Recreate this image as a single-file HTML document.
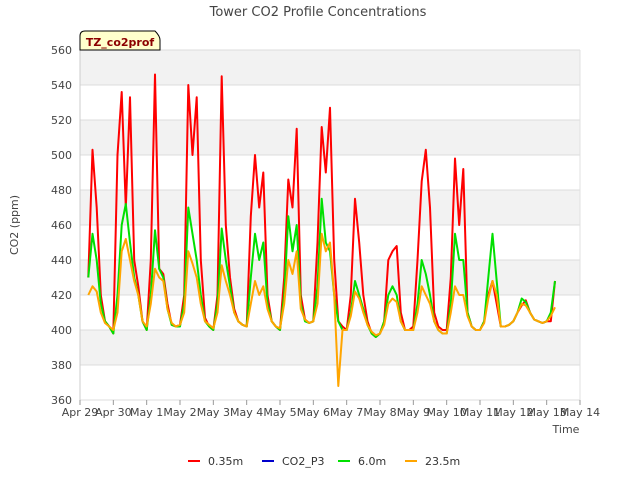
<!DOCTYPE html>
<html><head><meta charset="utf-8"><style>
body{margin:0;background:#fff;font-family:"Liberation Sans","DejaVu Sans",sans-serif}
svg text{font-family:"DejaVu Sans","Liberation Sans",sans-serif}
</style></head><body>
<svg id="chart" width="640" height="480" viewBox="0 0 640 480" xmlns="http://www.w3.org/2000/svg">
<text x="318" y="16" text-anchor="middle" font-size="13" fill="#444">Tower CO2 Profile Concentrations</text>
<g id="plot"></g>
<g>
<path d="M80,50 L80,36 Q80,31 85,31 L155,31 Q160,36 160,40 L160,50 Z" fill="#ffffcc" stroke="#000" stroke-width="1"/>
<text x="120" y="46" text-anchor="middle" font-size="11" font-weight="bold" fill="#8b0000">TZ_co2prof</text>
</g>
<text transform="translate(18,225) rotate(-90)" text-anchor="middle" font-size="11" fill="#444">CO2 (ppm)</text>
<text x="566" y="433" text-anchor="middle" font-size="11" fill="#444">Time</text>
<g id="legend"></g>
</svg>
<script>
const yTicks=[360,380,400,420,440,460,480,500,520,540,560];
const xTickLabels=["Apr 29","Apr 30","May 1","May 2","May 3","May 4","May 5","May 6","May 7","May 8","May 9","May 10","May 11","May 12","May 13","May 14"];
const startDay=0.25, stepDay=0.125;
const red=[430,503,470,420,405,402,
398,500,536,470,533,440,425,405,
400,440,546,435,432,415,403,402,
403,420,540,500,533,440,407,402,
400,420,545,460,430,412,405,403,
402,465,500,470,490,420,405,402,
400,430,486,470,515,420,406,404,
405,450,516,490,527,440,405,402,
400,420,475,450,420,405,398,396,
398,405,440,445,448,410,400,400,
402,440,485,503,470,410,402,400,
400,430,498,460,492,410,402,400,
400,405,420,428,415,402,402,403,
405,410,414,417,410,406,405,404,
405,405,428];
const green=[430,455,440,415,405,402,
398,420,460,472,450,430,420,405,
400,420,457,435,430,412,403,402,
402,415,470,455,440,420,405,402,
400,415,458,440,425,410,405,403,
402,430,455,440,450,415,405,402,
400,420,465,445,460,415,405,404,
405,425,475,450,445,420,405,400,
400,410,428,420,412,403,398,396,
398,405,420,425,420,405,400,400,
400,415,440,432,420,405,400,398,
398,415,455,440,440,410,402,400,
400,405,430,455,428,402,402,403,
405,410,418,416,410,406,405,404,
405,410,428];
const orange=[420,425,422,410,404,402,
400,410,445,452,440,428,420,405,
402,415,435,430,428,412,404,402,
403,410,445,438,430,415,405,403,
401,410,437,428,420,410,405,403,
402,415,428,420,425,412,405,402,
401,415,440,432,445,412,406,404,
405,415,455,445,450,420,368,400,
400,408,422,418,410,403,399,397,
398,403,415,418,416,405,400,400,
400,410,425,420,415,405,400,398,
398,410,425,420,420,408,402,400,
400,404,418,428,420,402,402,403,
405,410,415,414,410,406,405,404,
405,408,413];
const NS="http://www.w3.org/2000/svg";
const X0=80,X1=580,Y0=400,Y1=50;
const xs=d=>X0+(X1-X0)*d/15;
const ys=v=>Y0-(Y0-Y1)*(v-360)/200;
const plot=document.getElementById('plot');
function mk(t,a,p){const e=document.createElementNS(NS,t);for(const k in a)e.setAttribute(k,a[k]);(p||plot).appendChild(e);return e;}
const bg=mk('rect',{x:X0,y:Y1,width:X1-X0,height:Y0-Y1,fill:'#fff'});


for(let i=0;i<yTicks.length-1;i++){
 if(i%2===1){const b=mk('rect',{x:X0,y:ys(yTicks[i+1]),width:X1-X0,height:ys(yTicks[i])-ys(yTicks[i+1]),fill:'#f2f2f2'});
 
 }
}
yTicks.forEach(v=>{
 const g=mk('line',{x1:X0,x2:X1,y1:ys(v),y2:ys(v),stroke:'#dcdcdc','stroke-width':1});
 
 
 const t=mk('text',{x:X0-8,y:ys(v)+4,'text-anchor':'end','font-size':11,fill:'#444'});
 t.textContent=v;
 
 
});
mk('line',{x1:X0,x2:X0,y1:Y1,y2:Y0,stroke:'#ccc'});
mk('line',{x1:X1,x2:X1,y1:Y1,y2:Y0,stroke:'#e0e0e0'});
xTickLabels.forEach((l,i)=>{
 mk('line',{x1:xs(i),x2:xs(i),y1:Y0,y2:Y0+5,stroke:'#999'});
 const t=mk('text',{x:xs(i),y:Y0+16,'text-anchor':'middle','font-size':11,fill:'#444'});
 t.textContent=l;
 
 
});
function series(arr,color,name){
 const pts=arr.map((v,i)=>xs(startDay+i*stepDay).toFixed(1)+','+ys(v).toFixed(1)).join(' ');
 const p=mk('polyline',{points:pts,fill:'none',stroke:color,'stroke-width':2,'stroke-linejoin':'round'});
 
 
}
series(red,'#ff0000','series-0.35m');
series(green,'#00e000','series-6.0m');
series(orange,'#ffa500','series-23.5m');
const lg=document.getElementById('legend');
[['0.35m','#ff0000',188],['CO2_P3','#0000cc',262],['6.0m','#00e000',338],['23.5m','#ffa500',405]].forEach(([n,c,x])=>{
 const l=mk('line',{x1:x,x2:x+12,y1:461,y2:461,stroke:c,'stroke-width':2},lg);
 
 
 const t=mk('text',{x:x+20,y:465,'font-size':11,fill:'#333'},lg);
 t.textContent=n;
 
 
});
</script>
</body></html>
